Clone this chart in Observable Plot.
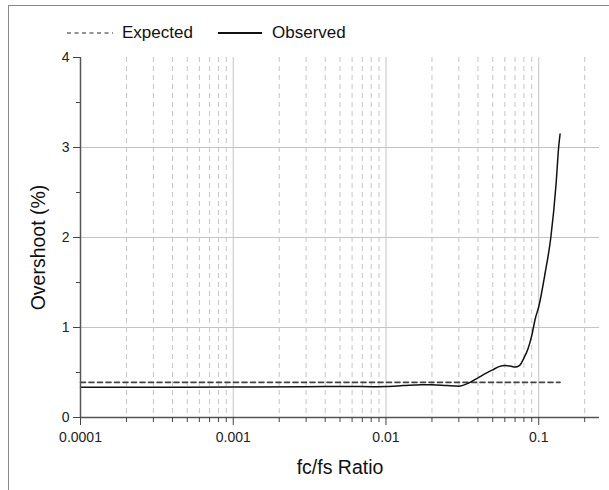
<!DOCTYPE html>
<html>
<head>
<meta charset="utf-8">
<script src="https://cdn.jsdelivr.net/npm/d3@7"></script>
<script src="https://cdn.jsdelivr.net/npm/@observablehq/plot@0.6"></script>
<style>
  html, body { margin: 0; padding: 0; background: #fff; }
  body { width: 609px; height: 490px; overflow: hidden; position: relative;
         font-family: "Liberation Sans", Arial, sans-serif; }
  #frame { position: absolute; left: 8px; top: 5px; width: 720px; height: 600px;
           border: 1.5px solid #8a8a8a; box-sizing: border-box; z-index: 5;
           pointer-events: none; background: transparent; }
  #legend { position: absolute; left: 0; top: 20px; width: 609px; height: 26px; }
  #legend svg { position: absolute; top: 0; left: 0; }
  #legend span { position: absolute; top: 2px; font-size: 17px; color: #111; line-height: 22px; }
  #chart { position: absolute; left: 0; top: 45px; }
</style>
</head>
<body>
<div id="frame"></div>
<div id="legend"></div>
<div id="chart"></div>
<script>
// ---- data ----
const seriesNames = ["Expected", "Observed"];

const expectedX = [0.0001, 0.138];
const expectedY = [0.39, 0.39];

const observedX = [0.0001, 0.0003, 0.001, 0.003, 0.006, 0.008, 0.01, 0.013, 0.017, 0.02,
                   0.025, 0.03, 0.035, 0.04, 0.045, 0.05, 0.055, 0.06, 0.065, 0.07,
                   0.075, 0.08, 0.085, 0.09, 0.095, 0.1, 0.11, 0.12, 0.13, 0.135, 0.138];
const observedY = [0.335, 0.335, 0.338, 0.342, 0.345, 0.342, 0.345, 0.355, 0.365, 0.365,
                   0.355, 0.348, 0.385, 0.44, 0.49, 0.53, 0.565, 0.578, 0.572, 0.56,
                   0.58, 0.66, 0.76, 0.91, 1.1, 1.23, 1.6, 2.0, 2.6, 3.0, 3.15];

const xMajorTicks = [0.0001, 0.001, 0.01, 0.1];
const xTickLabels = ["0.0001", "0.001", "0.01", "0.1"];
const xMinorTicks = [0.0002, 0.0003, 0.0004, 0.0005, 0.0006, 0.0007, 0.0008, 0.0009,
                     0.002, 0.003, 0.004, 0.005, 0.006, 0.007, 0.008, 0.009,
                     0.02, 0.03, 0.04, 0.05, 0.06, 0.07, 0.08, 0.09,
                     0.2];
const yMajorTicks = [0, 1, 2, 3, 4];
const yTickLabels = ["0", "1", "2", "3", "4"];
const yMinorTicks = [0.5, 1.5, 2.5, 3.5];
const yGrid = [1, 2, 3];

const xTitle = "fc/fs Ratio";
const yTitle = "Overshoot (%)";

// ---- tables ----
const expected = expectedX.map((x, i) => ({x, y: expectedY[i]}));
const observed = observedX.map((x, i) => ({x, y: observedY[i]}));

// ---- legend ----
const legend = document.getElementById("legend");
legend.innerHTML = `
  <svg width="609" height="26">
    <line x1="67" x2="113" y1="13" y2="13" stroke="#707070" stroke-width="1.5" stroke-dasharray="4,3.5"/>
    <line x1="218" x2="262" y1="13" y2="13" stroke="#111" stroke-width="1.8"/>
  </svg>
  <span style="left:122px">${seriesNames[0]}</span>
  <span style="left:272px">${seriesNames[1]}</span>`;

// ---- chart ----
const chart = Plot.plot({
  width: 609,
  height: 445,
  marginTop: 12,
  marginBottom: 73,
  marginLeft: 80,
  marginRight: 10,
  style: {fontFamily: "'Liberation Sans', Arial, sans-serif", fontSize: "14px", color: "#222", background: "transparent"},
  x: {type: "log", domain: [0.0001, 0.25]},
  y: {domain: [0, 4]},
  marks: [
    Plot.ruleX(xMinorTicks, {stroke: "#c4c4c4", strokeWidth: 1, strokeDasharray: "5,4"}),
    Plot.ruleX(xMajorTicks.slice(1), {stroke: "#c4c4c4", strokeWidth: 1}),
    Plot.ruleY(yGrid, {stroke: "#c4c4c4", strokeWidth: 1}),
    Plot.line(expected, {x: "x", y: "y", stroke: "#444", strokeWidth: 1.6, strokeDasharray: "5,3.5"}),
    Plot.line(observed, {x: "x", y: "y", curve: "monotone-x", stroke: "#111", strokeWidth: 1.5}),
    Plot.ruleY([0], {stroke: "#555", strokeWidth: 1.5}),
    Plot.ruleX([0.0001], {stroke: "#555", strokeWidth: 1.5}),
    Plot.axisX(xMajorTicks, {tickSize: 8, tickPadding: 7, stroke: "#444",
      tickFormat: d => xTickLabels[xMajorTicks.indexOf(d)], label: null, fill: "#222"}),
    Plot.axisX(xMinorTicks, {tickSize: 5, stroke: "#444", tickFormat: () => "", label: null}),
    Plot.axisY(yMajorTicks, {tickSize: 7, tickPadding: 4, stroke: "#444",
      tickFormat: d => yTickLabels[yMajorTicks.indexOf(d)], label: null, fill: "#222"}),
    Plot.axisY(yMinorTicks, {tickSize: 4, stroke: "#444", tickFormat: () => "", label: null}),
    Plot.text([yTitle], {frameAnchor: "left", textAnchor: "middle", lineAnchor: "middle",
      rotate: -90, dx: -42, dy: 10, fontSize: 19.5, fill: "#111"}),
    Plot.text([xTitle], {frameAnchor: "bottom", textAnchor: "middle", lineAnchor: "middle",
      dy: 50, fontSize: 19.5, fill: "#111"})
  ]
});
document.getElementById("chart").appendChild(chart);
</script>
</body>
</html>
